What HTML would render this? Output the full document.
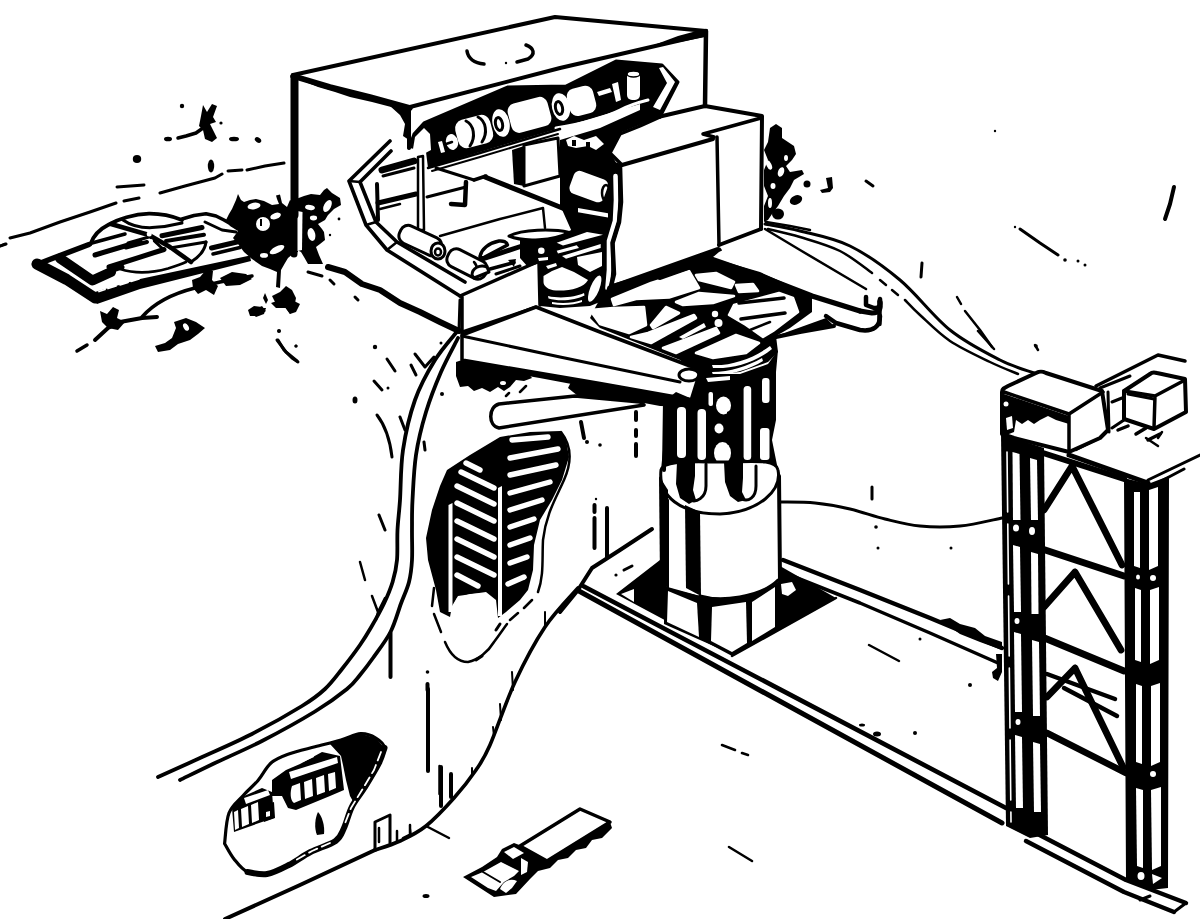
<!DOCTYPE html>
<html><head><meta charset="utf-8"><title>Launch facility cutaway</title>
<style>
html,body{margin:0;padding:0;background:#fff;font-family:"Liberation Sans",sans-serif;}
svg{display:block;position:absolute;left:0;top:0}
.k{fill:none;stroke:#000;stroke-linecap:round;stroke-linejoin:round}
.b{fill:#000;stroke:none}
.w{fill:#fff;stroke:none}
.wg{fill:#fff;stroke:#fff;stroke-width:2.6;stroke-linejoin:round}
.wb{fill:#fff;stroke:#000;stroke-linejoin:round;stroke-linecap:round}
.bb{fill:#000;stroke:#000;stroke-linejoin:round;stroke-linecap:round}
</style></head><body>
<svg width="1200" height="919" viewBox="0 0 1200 919">
<rect width="1200" height="919" fill="#fff"/>
<!-- 10_left.svg -->
<g id="left">
<!-- ground dashes -->
<path class="k" stroke-width="3" d="M0,246 L6,244 M10,238 L30,233 L60,222 L90,212 L116,203 M124,201 L139,198 M117,187 L144,185 M160,193 L185,186 L215,178 L222,174 M228,171 L242,170 M247,170 L265,166 L284,163"/>
<!-- small bush top -->
<path class="b" d="M203,105 L207,112 L212,104 L217,106 L213,117 L216,122 L210,124 L214,132 L217,138 L212,142 L205,139 L203,130 L199,126 L201,116 Z"/>
<path class="k" stroke-width="3.5" d="M178,138 L186,136 L196,133 L203,128"/>
<circle class="b" cx="182" cy="106" r="2.2"/><ellipse class="b" cx="168" cy="139" rx="4" ry="2.3"/>
<ellipse class="b" cx="234" cy="139" rx="5" ry="2.3"/><ellipse class="b" cx="258" cy="140" rx="3.5" ry="2.5" transform="rotate(35 258 140)"/>
<circle class="b" cx="221" cy="123" r="1.6"/>
<ellipse class="b" cx="137" cy="159" rx="4.2" ry="4"/><ellipse class="b" cx="211" cy="166" rx="3.2" ry="6.5"/>
<!-- silo cover platform -->
<path class="k" stroke-width="5.5" d="M38,264 L60,255.5 L89,244.5"/>
<path class="k" stroke-width="11" stroke-linecap="butt" d="M37,264 L66.7,279.5 L95,298"/>
<path class="b" d="M88,294 L140,279 L250,255.5 L251,261 L140,289 L97,304 Z"/>
<path class="k" stroke-width="10" stroke-linecap="butt" d="M60,258.3 L92.4,280.5 L111,272"/>
<path class="k" style="stroke:#fff" stroke-width="1.8" d="M99,291.5 L105,289.5 M108,288.5 L116,286 M120,284.8 L128,282.3 M131,281.3 L139,278.8"/>
<path class="k" stroke-width="5" d="M109,271.5 L122,267"/>
<!-- dome arcs -->
<path class="k" stroke-width="3.8" d="M90.5,244 C94,234 100,229 108,225 C118,219 134,214 149,213.7 C160,213.6 172,216 182,220"/>
<path class="k" stroke-width="3" d="M123,220 C130,225 140,228 152,227.6 C164,227 174,225 182,223"/>
<path class="k" stroke-width="3.5" d="M182,219 L194,215.5 L206,213.7 L216,216 L224,220 L237,227.5"/>
<!-- diagonal through hub -->
<path class="k" stroke-width="4.6" d="M111,224 L149,235 L170,247 L191,262"/>
<path class="k" stroke-width="3" d="M128,243 L149,237 M149,236 L164,250"/>
<!-- stripes -->
<path class="k" stroke-width="5" d="M95,255 L140,241.5"/>
<path class="k" stroke-width="3.5" d="M92,243 L125,234"/>
<path class="k" stroke-width="4" d="M126,247.5 L147,242"/>
<path class="k" stroke-width="5" d="M109,267 L164,249.5"/>
<path class="k" stroke-width="2.6" d="M120,269 C134,273.5 152,273 168,268.5 C176,266 182,264 186,262"/>
<path class="k" stroke-width="3" d="M206,242 C205,250 199,257 191,262"/>
<path class="k" stroke-width="5" d="M162,235.7 L202,227.5"/>
<path class="k" stroke-width="4" d="M166,241 L204,234.8"/>
<path class="k" stroke-width="3" d="M170,248 L206,242"/>
<path class="k" stroke-width="5" d="M211.5,248 L237,242"/>
<path class="k" stroke-width="3.5" d="M213,254 L240,247.5"/>
<path class="k" stroke-width="3" d="M205,222 L222,230 L236,232"/>
<circle class="w" cx="149.2" cy="234" r="2.5"/><circle class="w" cx="151" cy="241" r="2"/>
<!-- big bush at box corner -->
<path class="b" d="M232,209 L236,200 L238,194 L241,200 L244,202 L250,200 L256,199 L264,201 L272,205 L279,204 L277,199 L276,195.5 L280,194.5 L282,203 L287,207 L290,200 L298,205 L298,252 L294,253 L288,258 L285,263 L281,270 L280,288 L276,287 L277,272 L270,269 L262,266 L252,259 L244,252 L238,244 L233,238 L238,231 L230,226 L226,220 L229,214 Z"/>
<ellipse class="w" cx="254" cy="206" rx="6.5" ry="3.3" transform="rotate(-10 254 206)"/>
<circle class="w" cx="263" cy="224" r="7"/>
<ellipse class="w" cx="275.6" cy="216" rx="5.5" ry="3" transform="rotate(-20 275.6 216)"/>
<ellipse class="w" cx="277" cy="249.7" rx="8" ry="3.2" transform="rotate(-27 277 249.7)"/>
<ellipse class="w" cx="264" cy="255.4" rx="4" ry="2.4"/>
<path class="b" d="M260,219 L262,219 L262,226 L260,226 Z"/>
<!-- box edge extension into bush -->
<path class="k" stroke-width="7" d="M294,210 L294,254"/>
<!-- bush right of box edge -->
<path class="b" d="M296,199 L304,196 L311,194 L320,195 L324,190 L327,188 L332,193 L340,198 L341,205 L334,209 L328,215 L325,220 L318,224 L322,229 L324,232 L325,240 L320,244 L316,247 L319,255 L323,264 L308,264 L304,257 L301,252 L297,250 Z"/>
<path class="w" d="M297.5,211 L302.5,212 L302,250 L297.5,251 Z"/>
<ellipse class="w" cx="310" cy="207.5" rx="5" ry="2.5" transform="rotate(10 310 207.5)"/>
<ellipse class="w" cx="327.5" cy="206" rx="3.5" ry="6.5" transform="rotate(28 327.5 206)"/>
<ellipse class="w" cx="313.5" cy="218" rx="3.6" ry="2.4"/>
<ellipse class="w" cx="311.5" cy="234.5" rx="3.8" ry="6.5" transform="rotate(-12 311.5 234.5)"/>
<circle class="b" cx="339" cy="219" r="1.4"/><circle class="b" cx="330" cy="235" r="1.2"/>
<!-- lower vegetation -->
<path class="k" stroke-width="3.5" d="M77,351 L87,345"/>
<path class="k" stroke-width="4" d="M95,340 L108,328 L120,322 L142,318 L157,317"/>
<path class="b" d="M100,311 L107,314 L113,307 L119,310 L117,318 L125,322 L118,330 L108,328 L102,322 Z"/>
<path class="k" stroke-width="3.5" d="M142,317 C155,302 175,293 195,288 L220,282 L252,276"/>
<path class="b" d="M192,280 L200,277 L206,270 L213,271 L212,280 L218,286 L214,295 L206,290 L198,294 L193,288 Z"/>
<path class="b" d="M220,278 L232,272 L246,274 L252,279 L240,285 L226,286 Z"/>
<path class="b" d="M155,346 L165,343 L172,338 L176,328 L174,322 L186,318 L196,322 L205,328 L198,334 L190,340 L178,344 L170,350 L158,352 Z"/>
<ellipse class="w" cx="186" cy="327" rx="2.5" ry="4" transform="rotate(-30 186 327)"/>
<path class="b" d="M250,312 L258,308 L266,308 L264,314 L256,317 Z"/>
<path class="b" d="M272,296 L280,292 L286,286 L292,290 L296,298 L294,308 L290,314 L284,306 L276,304 Z"/>
<path class="b" d="M265,293 L268,300 L266,304 L263,298 Z"/>
<path class="k" stroke-width="3" d="M278,340 L284,350 L292,358 L298,362 M279,331 L279,331 M296,346 L296,346"/>
<path class="b" d="M248,310 L254,306 L262,307 L266,311 L258,316 L250,316 Z"/>
<path class="b" d="M251,308 L264,312 L258,304 Z" opacity="0"/>
<path class="b" d="M250,308 L258,304 L265,308 L262,313 L252,314 Z" opacity="0"/>
<path class="b" d="M272,300 L300,302 L296,312 L290,304 Z" opacity="0"/>
<path class="b" d="M250,306 L264,306 L264,314 L250,314 Z" opacity="0"/>
</g>

<!-- 20_mainbox.svg -->
<g id="mainbox">
<!-- roof -->
<path class="k" stroke-width="4" d="M293,75 L555,17 L706,31"/>
<path class="k" stroke-width="4" d="M410,107 L560,68 L703,35"/>
<path class="k" stroke-width="5.5" d="M293,76 L330,87 L370,97 L410,108"/>
<path class="b" d="M300,78 L330,86 L345,92 L370,96 L385,102 L410,107 L410,110 L395,108 L372,102 L350,97 L335,92 L318,87 L303,81 Z"/>
<path class="b" d="M654,45 L678,36 L704,29 L705,37 L680,42 Z"/>
<!-- left wall edge -->
<path class="k" stroke-width="8" d="M294.5,77 L294.5,215"/>
<!-- front-left vertical + shadow -->
<path class="k" stroke-width="4" d="M409,108 L409,148"/>
<path class="b" d="M390,106 L409,108 L409,140 L403,136 L405,124 L400,115 Z"/>
<!-- right edge -->
<path class="k" stroke-width="4.5" d="M706,31 L705,106"/>
<!-- ground edge at base -->
<path class="k" stroke-width="6" d="M328,267 L345,272 L362,284 L380,290 L400,303 L420,312 L440,322 L459,331"/>
<path class="k" stroke-width="3" d="M308,272 L322,276 M330,280 L334,284 M355,297 L358,300"/>
<!-- open frame left -->
<path class="k" stroke-width="3.6" d="M390,141 L349,181 L366,225 L387,250 L460,296"/>
<path class="k" stroke-width="3.6" d="M391,151 L360,182 L376,222 L397,242 L465,282"/>
<path class="k" stroke-width="4" d="M377,184 L378,220"/>
<path class="k" stroke-width="2.5" d="M349,181 L360,182 M366,225 L376,222 M387,250 L397,242"/>
</g>

<!-- 22_interior.svg -->
<g id="interior">
<!-- upper black band behind rollers -->
<path class="b" d="M410,148 L414,134 L424,123 L470,104 L508,87 L566,86 L590,74 L616,61 L662,65 L678,82 L668,100 L660,117 L642,124 L622,132 L610,152 L618,166 L616,222 L606,252 L596,240 L572,232 L560,205 L560,140 L600,128 L640,110 L640,104 L600,116 L560,128 L520,140 L480,152 L428,168 L426,152 Z"/>
<!-- cutaway edge outline -->
<path class="k" stroke-width="3" d="M409,148 L414,134 L424,123 L508,87 L566,86 L616,61 L662,65 L678,82 L660,117"/>
<!-- rollers (white) -->
<path class="w" d="M413,149 L415,137 L424,128 L430,134 L431,150 L420,156 Z"/>
<g transform="rotate(-15 474 131)"><rect class="w" x="456" y="117" width="36" height="29" rx="9"/></g>
<path class="k" stroke-width="3" d="M466,121 C474,125 476,137 470,146 M478,117 C486,121 488,133 482,142"/>
<ellipse class="w" cx="452" cy="142" rx="6" ry="8" transform="rotate(-15 452 142)"/>
<path class="k" stroke-width="2.5" d="M440,146 L452,142"/>
<path class="w" d="M438,142 L442,141 L445,152 L441,153 Z"/>
<ellipse class="w" cx="501" cy="123" rx="8.5" ry="14" transform="rotate(-12 501 123)"/>
<ellipse class="k" stroke-width="3" cx="499" cy="124" rx="3.5" ry="6.5" transform="rotate(-12 499 124)"/>
<g transform="rotate(-15 529 115)"><rect class="w" x="509" y="100" width="41" height="30" rx="8"/></g>
<ellipse class="w" cx="561" cy="107" rx="9" ry="14" transform="rotate(-12 561 107)"/>
<ellipse class="k" stroke-width="3" cx="559" cy="108" rx="3.5" ry="6.5" transform="rotate(-12 559 108)"/>
<g transform="rotate(-15 581 101)"><rect class="w" x="568" y="87" width="27" height="28" rx="8"/></g>
<path class="w" d="M597,92 L610,88 L612,92 L599,96 Z M612,84 L618,82 L621,100 L616,102 Z"/>
<rect class="w" x="627" y="72" width="13" height="28" rx="5"/>
<ellipse class="wb" stroke-width="1.5" cx="633.5" cy="74" rx="6.5" ry="3"/>
<path class="w" d="M659,68 L663,67 L675,82 L660,110 L653,107 L667,83 Z"/>

<!-- curved rail in right part -->
<path class="k" stroke="#fff" stroke-width="3" d="M556,128 C580,124 604,118 620,110 C630,105 640,102 648,100" style="stroke:#fff"/>
<path class="w" d="M566,140 L574,136 L584,140 L596,136 L604,144 L596,150 L588,146 L576,148 L568,146 Z"/>
<path class="b" d="M572,140 L576,140 L576,146 L572,146 Z M586,142 L590,142 L590,147 L586,147 Z"/>
<!-- white cylinder in right block -->
<g transform="rotate(20 590 186)"><rect class="w" x="571" y="175" width="36" height="24" rx="6"/></g>
<ellipse class="k" stroke-width="2.5" cx="606" cy="193" rx="4" ry="8"/>

<!-- mid box -->
<path class="b" d="M512,150 L524,146 L524,186 L514,184 Z"/>
<path class="wb" stroke-width="3" d="M524,145 L558,138 L560,176 L524,186 Z"/>
<!-- rail under rollers -->
<path class="k" stroke-width="2.5" d="M428,168 L480,153 L520,141 L560,129"/>
<path class="k" stroke-width="2" d="M432,171 L480,157 L520,145 L558,134"/>
<!-- pole -->
<path class="wb" stroke-width="2.5" d="M418,157 L423,156 L424,230 L418,230 Z"/>
<!-- inner frame shadows and lines -->
<path class="k" stroke-width="7" d="M382,170 L414,161"/>
<path class="k" stroke-width="3" d="M383,176 L414,168"/>
<path class="k" stroke-width="5" d="M378,203 L416,194"/>
<path class="k" stroke-width="2.5" d="M380,209 L400,204"/>
<path class="k" stroke-width="3" d="M427,197 L466,187"/>
<path class="k" stroke-width="3" d="M436,168 L474,180"/>
<path class="k" stroke-width="4.5" d="M466,182 L465,205 L451,204"/>
<path class="k" stroke-width="3.5" d="M474,180 L486,176"/>
<path class="k" stroke-width="5" d="M485,177 L540,199 L602,224"/>
<path class="k" stroke-width="2.5" d="M440,236 L500,219 L543,208 L545,228"/>
<!-- lower rollers bottom-left -->
<g transform="rotate(25 420 241)"><rect class="wb" stroke-width="3" x="398" y="231" width="44" height="19" rx="8"/></g>
<ellipse class="wb" stroke-width="3" cx="438" cy="251" rx="7" ry="8"/>
<ellipse class="k" stroke-width="2.5" cx="438" cy="252" rx="3" ry="3.5"/>
<g transform="rotate(27 466 264)"><rect class="wb" stroke-width="3" x="446" y="254" width="42" height="19" rx="8"/></g>
<path class="k" stroke-width="2.5" d="M474,262 C478,266 478,274 474,278"/>
<!-- line from frame to lower box -->
<path class="k" stroke-width="3.5" d="M460,296 L537,262"/>
</g>

<!-- 30_stepbox.svg -->
<g id="stepbox">
<path class="k" stroke-width="4" d="M658,117 L705,106 L762,116 L761,229"/>
<path class="k" stroke-width="3.5" d="M761,118 L703,134 L714,137"/>
<path class="k" stroke-width="3.5" d="M717,137 L719,245"/>
<path class="k" stroke-width="4" d="M622,165 L713,139"/>
<path class="k" stroke-width="3.5" d="M622,165 L610,153 L620,134 L640,126 L660,117"/>
<path class="k" stroke-width="11" stroke-linecap="butt" d="M616,168 L616,200 L615,222 L609,242 L609,270 L607,290"/>
<path class="k" style="stroke:#fff" stroke-width="4.6" stroke-linecap="butt" d="M615.5,176 L616,200 L615,221 L609,241 L609,270 L607.5,288"/>
<path class="k" stroke-width="4.5" d="M620,166 L621,202 L619,222 L612.5,243 L614,274 L610.5,288"/>
<path class="k" stroke-width="8" d="M611,289 L718,251"/>
<path class="k" stroke-width="4" d="M719,245 L761,229"/>
</g>

<!-- 40_platform.svg -->
<g id="platform">
<!-- lower-left front box -->
<path class="k" stroke-width="3.5" d="M462,297 L462,333"/>
<path class="k" stroke-width="3.5" d="M539,262 L540,305"/>
<path class="k" stroke-width="3" d="M462,332 L536,307"/>
<!-- lines radiating at box bottom corner -->
<path class="k" stroke-width="3" d="M460,300 L459,330"/>
<!-- interior lower: base black -->
<path class="b" d="M520,240 L530,234 L545,230 L569,231 L585,224 L604,226 L606,240 L604,262 L605,300 L590,306 L560,308 L540,306 L540,263 L528,267 L520,258 Z"/>
<path class="wb" stroke-width="3" d="M509,236 C522,229.5 552,228.5 569,232.5 C554,240.5 524,242.5 509,236 Z"/>
<path class="w" d="M556.7,242.7 L587,232 L603,234.7 L563,245.5 Z"/>
<path class="w" d="M556.7,250.7 L576.7,245.3 L579,248 L558,253.5 Z"/>
<path class="w" d="M562,256 L600.7,244 L600.7,248 L566,258.7 Z"/>
<path class="w" d="M577,257 L602,252 L602,266 L590,272 L578,265 Z"/>
<circle class="w" cx="541.3" cy="250.7" r="3.3"/>
<path class="w" d="M538,258 L548,257 L548,260 L539,261 Z"/>
<path class="w" d="M546,266 L556,263 L557,266 L548,269 Z"/>
<path class="w" d="M543.5,276 L552,271 L562,267 L574,272 L588,280 C584,288 570,291 556,290.5 C548,290 543.5,286 543.5,282 Z"/>
<path class="w" d="M548,296 C560,299 576,297 584,293 L584.5,295.5 C576,300 560,302 548.5,298.5 Z"/>
<path class="w" d="M552,302 C562,304 574,303 582,300 L582,302 C574,305 562,306 552,304 Z"/>
<ellipse class="w" cx="594.7" cy="288.7" rx="4.5" ry="14" transform="rotate(22 594.7 288.7)"/>
<path class="w" d="M578,208 L608,213.3 L608,217.5 L578,212.3 Z"/>
<!-- dome (bell) at left and stripes -->
<path class="wb" stroke-width="3.5" d="M480,257 C481,249 489,243 499,241 C503,240.5 507,242 507.5,245 L483,258 Z"/>
<path class="k" stroke-width="5" d="M484,258.5 L520.5,246.5"/>
<path class="k" stroke-width="3.6" d="M490,269 L514,262.5"/>
<path class="b" d="M508,260 L516,259 L514,267 Z"/>
<path class="k" stroke-width="3" d="M496,274 L520,266"/>
<path class="wb" stroke-width="3" d="M472,275 C472,268 480,264 487,267 L489,272 L474,278 Z"/>
<!-- platform black base shape -->
<path class="b" d="M604,292 L612,284 L708,256 L720,258 L762,272 L800,288 L812,296 L812,312 L790,328 L776,336 L778,352 L768,362 L740,372 L708,375 L690,368 L680,360 L640,344 L600,328 L590,318 L596,306 Z"/>
<!-- white patches -->
<path class="wg" d="M612,299 L651,283 L689,271 L699,288 L669,297.5 L636,299 L614,305 Z"/>
<path class="wg" d="M696,275 L716,273 L734,282 L731,288 L699,280 Z"/>
<path class="wg" d="M736,285 L753,284 L758,291 L739,292 Z"/>
<path class="wg" d="M676,302 L699,293 L734,296 L713,303 L683,305 Z"/>
<path class="wg" d="M590,310 L613,308 L644,307 L646,325 L629,333 L600,324 Z"/>
<path class="wg" d="M651,325 L666,307 L679,313 L653,328 Z"/>
<path class="wg" d="M631,337 L648,333 L694,315 L696,318 L651,343 Z"/>
<path class="w" d="M679,337 L704,323 L706,327 L683,339 Z"/>
<path class="wg" d="M663,348 L716,328 L719,333 L676,353 Z"/>
<path class="wg" d="M696,353 L736,335 L759,343 L746,353 L713,358 Z"/>
<path class="wg" d="M734,305 L779,293 L793,298 L798,312 L773,331 L763,337 L746,325 L729,315 Z"/>
<path class="k" stroke-width="3.5" d="M739,303 L784,298 M741,319 L785,313"/>
<path class="k" stroke-width="2.5" d="M750,330 L770,322"/>
<path class="w" d="M712,365 C732,366 754,358 770,346 L772,349 C756,362 734,369 713,368 Z"/>
<path class="w" d="M712,372 C730,372 748,366 762,358 L763,361 C750,369 732,375 713,375 Z"/>
<circle class="w" cx="715" cy="314" r="3.2"/><circle class="w" cx="718.5" cy="323" r="4"/>
<!-- platform right arm -->
<path class="w" d="M712,258 L719,252 L761,232 L770,232 L868,290 L880,300 L880,312 L860,312 L800,290 L760,272 Z"/>
<path class="k" stroke-width="5.5" d="M711,259 L760,276 L812,296 L860,311"/>
<path class="k" stroke-width="2.5" d="M765,229 L800,250 L866,289"/>
<path class="k" stroke-width="4.5" d="M866,297 L866,305 L874,308 C880,309 881,304 880,299"/><path class="k" stroke-width="5" d="M860,311 L872,313 C880,313 881,308 880,302"/>
<path class="k" stroke-width="4.5" d="M826,316 L836,323 L860,330 C874,332 880,326 880,316"/>
<path class="k" stroke-width="4" d="M776,337 L800,332 L834,326"/>
<path class="k" stroke-width="4.5" d="M879.5,301 L879.5,324"/>
<path class="b" d="M776,336 L826,318 L834,326 L800,332 Z"/>
<path class="k" stroke-width="6" d="M660,277 L711,259"/>
<!-- upper arm (wedge) -->

<path class="wb" stroke-width="3.5" d="M462,335 L536,307 L600,332 L690,366 C701,368 705,378 700,386 L693,400 L600,383.5 L462,360 Z"/>
<path class="k" stroke-width="3" d="M462,336 L560,357 L680,382"/>
<ellipse class="wb" stroke-width="3" cx="689" cy="375" rx="10" ry="6"/>
<!-- shadow under arm -->
<path class="b" d="M456,362 L462,360 L480,364 L500,368 L527,372 L532,378 L524,381 L516,380 L510,387 L504,391 L498,387 L490,392 L482,388 L474,391 L468,386 L460,387 L456,376 Z"/>
<path class="k" stroke-width="5" d="M480,365 L540,375.5 L580,383"/>
<ellipse class="w" cx="503" cy="383" rx="3" ry="2"/>
<path class="k" stroke-width="2.5" d="M520,392 L526,386 M506,396 L509,393"/>
<!-- lower arm -->
<path class="wb" stroke-width="3.5" d="M499,404 L575,396 L640,402 L644,405 L499,428 C488,426 488,407 499,404 Z"/>
<path class="b" d="M572,380 L600,384 L697,400 L698,407 L660,406 L644,403 L600,398 L578,396 L568,388 Z"/>
</g>

<!-- 50_column.svg -->
<g id="column">
<!-- pit black -->
<path class="b" d="M616,594 L660,560 L700,575 L780,566 L836,598 L732,656 Z"/>
<path class="w" d="M621,594 L634,589 L634,602 Z"/>
<path class="w" d="M781,584 L792,582 L796,590 L788,596 L782,594 Z"/>
<!-- pit edges -->
<path class="k" stroke-width="2.5" d="M836,598 L732,656"/>
<!-- pillars black mass -->
<path class="b" d="M700,366 L712,374 L740,374 L768,364 L778,350 L776,372 L776,420 L772,440 L778,470 L660,480 L664,440 L666,400 L676,392 L690,398 Z"/>
<!-- white slots -->
<rect class="w" x="677" y="407" width="9" height="51" rx="4"/>
<rect class="w" x="697.5" y="409" width="8.5" height="51" rx="4"/>
<ellipse class="w" cx="723.5" cy="405.5" rx="7.5" ry="9"/>
<ellipse class="w" cx="719" cy="428.5" rx="4.5" ry="5"/>
<ellipse class="w" cx="722.5" cy="453" rx="8.5" ry="11"/>
<rect class="w" x="708.5" y="392" width="4.5" height="14" rx="2"/>
<rect class="w" x="743.6" y="386" width="7.6" height="74" rx="3.5"/>
<rect class="w" x="760" y="428" width="9.5" height="32" rx="3"/>
<rect class="w" x="762" y="378" width="7.5" height="25" rx="3"/>
<path class="w" d="M706,378 L730,376 L730,380 L708,382 Z"/>
<path class="b" d="M727,412 L731,410 L731,446 L727,444 Z"/>
<!-- cylinder body -->
<path class="w" d="M660,478 C660,530 700,516 720,514 C760,512 779,500 779,478 L779,580 C770,596 730,602 700,596 L667,588 Z"/>
<path class="wb" stroke-width="3" d="M661,470 C664,460 690,462 720,462 C750,462 776,458 778,470 C782,490 760,512 720,514 C680,514 658,496 661,470 Z"/>
<path class="k" stroke-width="4" d="M779,476 L780,580"/>
<path class="b" d="M659,476 L668,490 L668,588 L660,580 Z"/>
<path class="b" d="M685,505 L700,512 L701,596 L686,588 Z"/>
<path class="k" stroke-width="2" d="M668,500 L668,588"/>
<path class="k" stroke-width="3" d="M700,596 C720,602 760,598 778,580"/>
<!-- hooks on cylinder top -->
<path class="b" d="M677,462 L695,460 L695,476 L693,490 L696,500 L689,504 L680,498 L676,484 Z"/><path class="k" stroke-width="3" d="M706,464 L706,486 C706,498 696,503 690,500"/>
<path class="b" d="M724,462 L743,460 L743,478 L742,492 L746,500 L738,502 L730,496 L725,482 Z"/><path class="k" stroke-width="3" d="M756,466 L756,486 C756,498 748,502 742,499"/>
<!-- base panels -->
<path class="b" d="M664,586 L700,596 L740,600 L778,582 L778,626 L750,642 L732,654 L700,640 L664,624 Z"/>
<path class="w" d="M668,591 L697,603 L699,637 L667,622 Z"/>
<path class="w" d="M712,607 L746,602 L747,643 L732,652 L711,641 Z"/>
<path class="w" d="M752,602 L775,587 L775,627 L752,641 Z"/>
</g>

<!-- 60_rails.svg -->
<g id="rails">
<!-- front rail -->
<path class="k" stroke-width="4.6" d="M584,586.5 L780,689.4 L1006,808"/>
<path class="k" stroke-width="5" d="M578,590.5 L780,701.3 L1002,823"/>
<path class="k" stroke-width="4.5" d="M1030,830 L1126,880 L1186,903"/>
<path class="k" stroke-width="4.5" d="M1026,841 L1124,892 L1174,912"/>
<path class="k" stroke-width="3" d="M1174,912 L1186,903 M1140,900 L1150,896"/>
<!-- back rail -->
<path class="k" stroke-width="4.5" d="M783,560 L860,590 L930,618 L1002,648"/>
<path class="k" stroke-width="3.5" d="M782,572 L860,603 L930,633 L998,663"/>
<path class="b" d="M940,620 L950,618 L960,624 L975,628 L985,636 L1002,642 L1002,650 L980,642 L960,634 Z"/>
<path class="b" d="M996,654 L1002,654 L1002,672 L998,681 L993,678 L992,672 L997,668 Z"/>
<!-- cliff/ground edge to rail start -->
<path class="k" stroke-width="4" d="M560,612 L578,590 L592,568 L620,550 L652,529"/>
<!-- small dashes on ground -->
<path class="k" stroke-width="2.5" d="M869,645 L899,661"/>
<path class="k" stroke-width="2.5" d="M722,745 L735,750 M742,753 L748,755 M729,847 L752,861"/>
<circle class="b" cx="951" cy="548" r="1.5"/><circle class="b" cx="920" cy="639" r="1.5"/><circle class="b" cx="970" cy="685" r="2"/>
<circle class="b" cx="915" cy="733" r="2"/><ellipse class="b" cx="877" cy="734" rx="4" ry="2.5"/><ellipse class="b" cx="862" cy="725" rx="3" ry="1.5"/>
<circle class="b" cx="878" cy="548" r="1.5"/><circle class="b" cx="876" cy="527" r="1.8"/>
</g>

<!-- 70_tower.svg -->
<g id="tower">
<!-- braces front face -->
<path class="k" stroke-width="6" d="M1043,453 L1124,479"/>
<path class="k" stroke-width="6.8" d="M1030,545 L1124,576"/>
<path class="k" stroke-width="6.8" d="M1030,632 L1124,671"/>
<path class="k" stroke-width="6.5" d="M1047,733 L1126,773"/>
<!-- diagonals -->
<path class="k" stroke-width="6.8" d="M1072,466 L1044,510 M1072,466 L1122,565"/>
<path class="k" stroke-width="6.8" d="M1075,572 L1044,607 M1075,572 L1121,650"/>
<path class="k" stroke-width="6.8" d="M1075,668 L1047,697 M1075,668 L1123,767"/>
<path class="k" stroke-width="4.5" d="M1047,674 L1115,699 M1064,688 L1117,716"/>
<!-- left leg -->
<path class="b" d="M1001,434 L1044,448 L1048,835 L1030,838 L1006,826 Z"/>
<g class="w">
<path d="M1012.5,452 L1019.5,454 L1020.5,520 L1013,520 Z"/>
<path d="M1030,458 L1037,460 L1038,520 L1031,520 Z"/>
<path d="M1013,545 L1020,547 L1021,612 L1014,612 Z"/>
<path d="M1031,552 L1038,554 L1038.5,614 L1031.5,614 Z"/>
<path d="M1014,632 L1021,634 L1022,712 L1015,712 Z"/>
<path d="M1032,640 L1039,642 L1040,716 L1033,716 Z"/>
<path d="M1015,735 L1022,737 L1023,808 L1016,808 Z"/>
<path d="M1033,742 L1040,744 L1041,812 L1034,812 Z"/>
<ellipse cx="1016" cy="528" rx="3" ry="3.5"/><ellipse cx="1032" cy="531" rx="3" ry="4"/>
<ellipse cx="1017" cy="621" rx="2.5" ry="3"/><ellipse cx="1018" cy="722" rx="2.5" ry="3"/>
</g>
<path class="k" style="stroke:#fff" stroke-width="1.6" stroke-dasharray="60 12" d="M1007,452 L1011,822"/>
<!-- right leg -->
<path class="b" d="M1124,478 L1148,484 L1169,476 L1168,888 L1150,890 L1126,880 Z"/>
<g class="w">
<path d="M1134,492 L1140,492 L1140,568 L1134,566 Z"/>
<path d="M1149,490 L1158,487 L1158,566 L1149,570 Z"/>
<path d="M1135,588 L1141,590 L1141,662 L1135,660 Z"/>
<path d="M1150,590 L1159,587 L1159,660 L1150,664 Z"/>
<path d="M1136,684 L1142,686 L1142,764 L1136,762 Z"/>
<path d="M1151,686 L1160,683 L1160,762 L1151,766 Z"/>
<path d="M1136,788 L1143,790 L1143,868 L1137,866 Z"/>
<path d="M1151,790 L1161,787 L1161,866 L1152,870 Z"/>
<ellipse cx="1153" cy="578" rx="3" ry="3"/><ellipse cx="1153" cy="774" rx="3" ry="3"/><ellipse cx="1138" cy="577" rx="2" ry="2.5"/>
<ellipse cx="1141" cy="876" rx="3.5" ry="4"/><path d="M1152,874 L1162,878 L1153,884 Z"/>
</g>
<!-- tower top platform -->
<path class="k" stroke-width="5" d="M1069,455 L1148,483"/>
<path class="k" stroke-width="3" d="M1148,480 L1200,455 M1150,487 L1184,469"/>
<path class="k" stroke-width="2.5" d="M1076,450 L1098,439"/>
<!-- box 1 -->
<path class="wb" stroke-width="4" d="M1002,392 C1002,389 1004,388 1008,386 L1036,373 C1040,371 1042,371 1046,373 L1102,391 L1108,430 L1100,438 L1069,452 L1014,438 L1002,434 Z"/>
<path class="k" stroke-width="3.5" d="M1004,392 L1069,414 L1103,392 M1069,414 L1069,452"/>
<path class="b" d="M1004,394 L1069,416 L1069,424 L1056,420 L1048,416 L1040,420 L1034,424 L1028,420 L1022,424 L1016,420 L1014,432 L1004,436 Z"/>
<ellipse class="w" cx="1006" cy="404" rx="2.5" ry="2.5"/><path class="w" d="M1006,418 L1012,416 L1013,428 L1007,430 Z"/>
<!-- small link box -->
<path class="k" stroke-width="3" d="M1108,392 L1109,432 M1112,402 L1122,398 M1112,428 L1124,420"/>
<!-- box 2 -->
<path class="wb" stroke-width="4" d="M1124,391 L1150,374 C1152,372 1154,372 1157,373 L1185,379 L1186,412 L1154,429 L1124,419 Z"/>
<path class="k" stroke-width="3.5" d="M1124,391 L1155,396 L1185,380 M1155,396 L1154,428"/>
<path class="k" stroke-width="3" d="M1128,394 L1154,399"/>
<!-- shadow marks under box 2 -->
<path class="k" stroke-width="3.5" d="M1118,430 L1128,426 M1136,434 L1146,428 M1148,440 L1160,434"/>
<path class="k" stroke-width="2.5" d="M1146,438 L1158,446 M1158,438 L1162,432"/>
<!-- back line behind boxes -->
<path class="k" stroke-width="3.5" d="M1096,386 L1158,355 L1185,361"/>
<path class="k" stroke-width="3" d="M1100,388 L1130,376"/>
</g>

<!-- 80_curves.svg -->
<g id="curves">
<path class="k" stroke-width="3.8"  d="M457.5,331.0 C453.8,335.8 442.1,348.5 435.0,360.0 C427.9,371.5 420.3,385.0 415.0,400.0 C409.7,415.0 405.5,433.3 403.0,450.0 C400.5,466.7 400.9,486.7 400.0,500.0 C399.1,513.3 398.0,520.0 397.5,530.0 C397.0,540.0 397.8,551.3 397.0,560.0 C396.2,568.7 394.8,574.8 392.6,582.0 C390.4,589.2 387.6,595.9 384.0,603.5 C380.4,611.1 375.0,620.6 371.0,627.5 C367.0,634.4 364.8,638.1 360.0,645.0 C355.2,651.9 347.8,661.7 342.0,669.0 C336.2,676.3 331.7,682.8 325.0,689.0 C318.3,695.2 314.2,698.5 302.0,706.0 C289.8,713.5 269.0,725.3 252.0,734.0 C235.0,742.7 215.7,750.8 200.0,758.0 C184.3,765.2 165.0,773.8 158.0,777.0"/>
<path class="k" stroke-width="3.8"  d="M458.0,338.0 C455.2,343.7 446.3,359.7 441.0,372.0 C435.7,384.3 430.2,398.2 426.0,412.0 C421.8,425.8 418.2,440.3 416.0,455.0 C413.8,469.7 413.2,487.5 412.5,500.0 C411.8,512.5 412.1,520.0 412.0,530.0 C411.9,540.0 412.5,551.3 412.0,560.0 C411.5,568.7 410.8,574.8 409.0,582.0 C407.2,589.2 404.1,595.2 401.0,603.5 C397.9,611.8 395.2,622.9 390.5,632.0 C385.8,641.1 378.1,650.8 373.0,658.0 C367.9,665.2 364.3,669.8 360.0,675.0 C355.7,680.2 354.5,682.9 347.0,689.0 C339.5,695.1 329.2,702.8 315.0,711.5 C300.8,720.2 278.7,732.4 262.0,741.0 C245.3,749.6 228.7,756.5 215.0,763.0 C201.3,769.5 185.8,777.2 180.0,780.0"/>
<path class="k" stroke-width="3"  d="M765.0,224.0 C770.8,225.2 785.8,227.3 800.0,231.0 C814.2,234.7 833.3,237.8 850.0,246.0 C866.7,254.2 883.3,266.0 900.0,280.0 C916.7,294.0 933.3,316.7 950.0,330.0 C966.7,343.3 986.0,352.8 1000.0,360.0 C1014.0,367.2 1028.3,370.8 1034.0,373.0"/>
<path class="k" stroke-width="2.5"  d="M768.0,229.0 C773.3,230.3 788.0,233.3 800.0,237.0 C812.0,240.7 828.0,245.0 840.0,251.0 C852.0,257.0 866.7,269.3 872.0,273.0"/>
<path class="k" stroke-width="2.5"  d="M905.0,300.0 C907.5,302.5 912.5,308.2 920.0,315.0 C927.5,321.8 938.3,333.2 950.0,341.0 C961.7,348.8 978.7,356.5 990.0,362.0 C1001.3,367.5 1013.3,372.0 1018.0,374.0"/>
<path class="k" stroke-width="2.5" d="M880,280 L886,285 M892,290 L898,295"/>
<path class="k" stroke-width="3"  d="M780.0,502.0 C785.8,502.2 803.3,501.8 815.0,503.0 C826.7,504.2 838.3,506.3 850.0,509.0 C861.7,511.7 873.3,516.2 885.0,519.0 C896.7,521.8 907.5,524.8 920.0,526.0 C932.5,527.2 946.3,527.3 960.0,526.0 C973.7,524.7 995.0,519.3 1002.0,518.0"/>
<path class="k" stroke-width="3.6"  d="M578.0,588.0 C572.5,594.5 555.5,611.3 545.0,627.0 C534.5,642.7 524.2,662.3 515.0,682.0 C505.8,701.7 496.5,730.3 490.0,745.0 C483.5,759.7 482.0,761.2 476.0,770.0 C470.0,778.8 462.3,788.7 454.0,798.0 C445.7,807.3 435.0,818.8 426.0,826.0 C417.0,833.2 408.5,837.0 400.0,841.0 C391.5,845.0 379.2,848.5 375.0,850.0"/>
<path class="k" stroke-width="4" d="M375,850 L300,885 L225,919"/>
</g>
<!-- 85_cutaways.svg -->
<g id="cutaways">
<!-- shelving cutaway: black body -->
<path class="b" d="M500,437 L530,432 L560,431 L566,440 L569,457 L562,480 L552,500 L540,520 L534,545 L533,570 L528,590 L520,600 L506,612 L498,618 L496,600 L486,592 L458,596 L452,606 L450,617 L440,612 L436,590 L428,560 L426,538 L432,510 L440,486 L447,470 L470,455 Z"/>
<!-- outer thin border right -->
<path class="k" stroke-width="2.5" d="M561,432 C572,446 572,462 564,480 C556,498 546,514 543,540 C542,560 544,575 538,592 M532,600 L524,608 M518,613 L510,620"/>
<!-- posts -->
<path class="w" d="M448.5,505 L452.5,503 L452.5,612 L448.5,612 Z"/>
<path class="w" d="M498,488 L502,486 L502,616 L498,616 Z"/>
<!-- left stripes (slanting down-right) -->
<g class="k" style="stroke:#fff" stroke-width="5.4">
<path d="M466,463 L480,470"/>
<path d="M461,472 L494,488"/>
<path d="M457,486 L494,504"/>
<path d="M457,503 L494,521"/>
<path d="M457,521 L494,539"/>
<path d="M457,539 L494,557"/>
<path d="M457,557 L494,575"/>
<path d="M457,575 L478,586"/>
</g>
<!-- right stripes (slanting up-right) -->
<g class="k" style="stroke:#fff" stroke-width="5.4">
<path d="M512,440 L548,437"/>
<path d="M510,458 L558,449"/>
<path d="M510,475 L556,465"/>
<path d="M510,493 L550,482"/>
<path d="M510,510 L542,500"/>
<path d="M510,527 L534,519"/>
<path d="M510,545 L530,538"/>
<path d="M510,563 L527,557"/>
<path d="M508,584 L524,577"/>
</g>
<!-- white floor at bottom -->
<path class="w" d="M457,598 L470,594 L486,593 L492,600 L496,612 L497,620 L452,620 L453,606 Z"/>
<!-- dashed lower outline -->
<path class="k" stroke-width="2.5" d="M434,588 L432,606 M434,614 L441,632 M445,642 C450,654 458,662 468,662 C478,660 488,652 494,642 C500,634 504,628 507,624"/>
<path class="k" stroke-width="3" d="M476,660 L482,656 M496,630 L500,624"/>
<!-- train tunnel cutaway -->
<path class="wb" stroke-width="3.2" d="M224.6,843.6 C225.3,838.5 225.9,821.0 229.0,813.0 C232.1,805.0 238.2,801.1 243.0,795.7 C247.8,790.3 253.3,786.0 258.0,780.5 C262.7,775.0 265.9,767.4 271.0,763.0 C276.1,758.6 281.5,756.7 288.8,754.0 C296.1,751.3 306.3,749.1 315.0,746.8 C323.7,744.5 333.4,742.2 341.0,740.0 C348.6,737.8 354.8,734.0 360.6,733.7 C366.4,733.4 371.8,735.6 375.8,738.0 C379.8,740.4 384.0,743.7 384.5,747.9 C385.0,752.1 382.2,756.5 379.0,763.0 C375.8,769.5 369.5,779.7 365.0,787.0 C360.5,794.3 355.5,799.8 352.0,806.6 C348.5,813.4 346.7,822.3 344.0,828.0 C341.3,833.7 341.2,837.0 335.6,841.0 C330.0,845.0 318.3,848.0 310.5,852.0 C302.7,856.0 296.1,861.3 288.8,865.0 C281.6,868.7 273.9,872.8 267.0,874.0 C260.1,875.2 253.0,874.5 247.5,872.0 C242.0,869.5 237.8,863.7 234.0,859.0 C230.2,854.3 226.2,846.2 224.6,843.6 Z"/>
<path class="b" d="M330,744 L341,740 L360.6,733.7 L375.8,738 L384.5,747.9 L379,763 L365,787 L354,803 L350,796 L346,780 L343,765 L341,756 Z"/>
<path class="k" stroke-width="6" d="M384.5,747.9 C383.6,750.4 382.2,756.5 379.0,763.0 C375.8,769.5 369.5,779.7 365.0,787.0 C360.5,794.3 355.5,799.8 352.0,806.6 C348.5,813.4 346.7,822.3 344.0,828.0 C341.3,833.7 341.2,837.0 335.6,841.0 C330.0,845.0 318.3,848.0 310.5,852.0 C302.7,856.0 296.1,861.3 288.8,865.0 C281.6,868.7 273.9,872.8 267.0,874.0 C260.1,875.2 250.8,872.3 247.5,872.0"/>
<path class="k" style="stroke:#fff" stroke-width="1.8" stroke-dasharray="9 5" d="M381,752 L374,770 L362,790 L351,808 L344,826 M330,843 L312,851 L296,860"/>
<!-- train car 1 -->
<path class="b" d="M272,780 L286,770 L300,764 L322,752 L340,756 L344,790 L330,796 L296,810 L288,808 L282,796 L272,796 Z"/>
<path class="w" d="M289,772 L337,757 L338,763 L291,779 Z"/>
<path class="w" d="M292,786 L300,783 L301,800 L294,803 C290,800 290,792 292,786 Z M304,782 L312,779 L313,796 L305,799 Z M316,778 L324,775 L325,792 L317,795 Z M328,774 L335,772 L336,788 L329,791 Z"/>
<path class="w" d="M300,756 L312,751 L314,757 L303,762 Z"/>
<!-- train car 2 -->
<path class="b" d="M232,808 L244,796 L262,788 L272,792 L274,818 L262,822 L234,832 Z"/>
<path class="w" d="M244,798 L268,790 L270,795 L246,804 Z"/>
<path class="w" d="M234,812 L238,810 L239,828 L235,830 Z M241,809 L248,806 L249,824 L242,827 Z M251,805 L258,802 L259,820 L252,823 Z"/>
<path class="b" d="M262,806 L274,802 L275,818 L264,822 Z"/>
<path class="w" d="M266,812 L270,811 L270,816 L266,817 Z"/>
<!-- small figure -->
<path class="b" d="M318,812 C322,816 325,826 324,834 L317,835 C314,828 315,818 318,812 Z"/>
<!-- door + hatch marks -->
<path class="k" stroke-width="3" d="M375,849 L375,822 L390,815 L390,843"/>
<path class="k" stroke-width="2.5" d="M379,828 L379,842 M397,831 L397,841 M410,825 L410,836 M403,838 L409,835"/>
<!-- vertical tick lines on cliff face -->
<path class="k" stroke-width="4" d="M428,689 L428,771"/>
<path class="k" stroke-width="4" d="M427.5,684 L427.5,690"/>
<circle class="b" cx="427.5" cy="672" r="1.8"/>
<path class="k" stroke-width="4" d="M441,767 L441,806 M451,774 L451,797"/>
<path class="k" stroke-width="2.5" d="M439.5,766 L439.5,794"/>
<path class="k" stroke-width="4" d="M390.5,633 L390.5,677"/>
<path class="k" stroke-width="2.5" d="M426,826 L449,838"/>
<path class="k" stroke-width="2" d="M493,727 L494,736 M472,768 L472,776 M410,828 L411,836 M512,672 L513,690 M500,704 L501,720 M545,612 L545,626"/>
<ellipse class="b" cx="426" cy="896" rx="3.5" ry="2"/>
<!-- truck -->
<path class="b" d="M463,877 L482,867 L497,857 L502,849 L514,843 L522,846 L548,861 L610,822 L612,828 L602,838 L592,840 L586,848 L576,850 L568,858 L558,860 L550,868 L538,871 L530,879 L516,894 L494,897 Z"/>
<path class="wb" stroke-width="3.5" d="M520,846 L580,809 L610,822 L547,861 Z"/>
<path class="w" d="M504,852 L514,847 L524,853 L513,859 Z"/>
<path class="w" d="M471,877 L483,872 L501,862 L519,871 L514,876 L504,882 L496,891 L488,888 Z"/>
<path class="w" d="M500,889 C503,881 510,878 517,881 L512,888 L506,893 Z"/>
<path class="w" d="M521,858 L528,862 L527,872 L521,875 Z"/>
<path class="k" stroke-width="2" d="M483,872 L500,882"/>
</g>

<!-- 90_misc.svg -->
<g id="misc">
<!-- roof circle marks -->
<path class="k" stroke-width="3.5" d="M467,51 C468,58 474,63 484,64"/>
<path class="k" stroke-width="3.5" d="M526,45 C534,48 536,54 528,59 L517,62"/>
<circle class="b" cx="506" cy="63" r="1.2"/>
<!-- bush right of box B -->
<path class="b" d="M770,128 L776,124 L782,128 L782,138 L788,142 L794,146 L796,154 L792,160 L786,166 L790,172 L802,170 L804,174 L794,180 L790,188 L784,196 L778,206 L772,214 L768,220 L764,222 L764,206 L768,196 L764,186 L764,170 L768,160 L764,150 L768,142 Z"/>
<ellipse class="w" cx="769" cy="165" rx="2.5" ry="5" transform="rotate(-25 769 165)"/><ellipse class="w" cx="781" cy="172" rx="3" ry="5" transform="rotate(20 781 172)"/>
<ellipse class="w" cx="773" cy="186" rx="2.5" ry="3"/><ellipse class="w" cx="770" cy="203" rx="2" ry="5"/><ellipse class="w" cx="786" cy="158" rx="2" ry="3"/>
<path class="b" d="M820,190 L828,188 L826,178 L832,177 L833,188 L830,192 L822,193 Z"/>
<ellipse class="b" cx="807" cy="184" rx="3.5" ry="3.5"/><ellipse class="b" cx="796" cy="200" rx="6.5" ry="4.5" transform="rotate(-25 796 200)"/>
<ellipse class="b" cx="778" cy="214" rx="6" ry="5.5"/>
<path class="k" stroke-width="2.5" d="M766,222 L790,226 L810,230"/>
<!-- upper right dashes -->
<circle class="b" cx="995" cy="131" r="1.2"/>
<path class="k" stroke-width="3" d="M866,181 L873,186"/>
<path class="k" stroke-width="4" d="M1174,187 L1170,204 L1165,219"/>
<path class="k" stroke-width="3" d="M1020,229 L1040,243 L1058,255"/>
<circle class="b" cx="1015" cy="227" r="1.2"/><circle class="b" cx="1065" cy="260" r="1.8"/><circle class="b" cx="1078" cy="261" r="1.5"/><circle class="b" cx="1085" cy="265" r="1.5"/>
<path class="k" stroke-width="3" d="M922,263 L921,277"/>
<path class="k" stroke-width="2.5" d="M957,297 L961,304 M965,311 L980,330 L992,347"/>
<circle class="b" cx="1036" cy="346" r="1.8"/>
<path class="k" stroke-width="2.5" d="M978,331 L994,349 M1035,345 L1038,350"/>
<!-- vegetation ticks near big cable -->
<path class="k" stroke-width="3" d="M277,340 L286,352 L297,361"/>
<circle class="b" cx="279" cy="331" r="2"/><circle class="b" cx="296" cy="346" r="1.6"/><circle class="b" cx="375" cy="347" r="2.2"/>
<path class="b" d="M250,312 L262,306 L265,310 L256,316 Z"/>
<path class="b" d="M271,303 L280,300 L292,300 L300,304 L296,312 L290,314 L286,308 L276,308 Z"/>
<path class="k" stroke-width="3" d="M387,359 L395,371 M374,381 L382,390"/>
<circle class="b" cx="388" cy="388" r="1.5"/>
<ellipse class="b" cx="355" cy="400" rx="2.5" ry="3.5"/>
<path class="k" stroke-width="3" d="M377,415 C384,424 390,440 392,457"/>
<path class="k" stroke-width="3" d="M415,354 L425,367 L434,357 M411,365 L416,375"/>
<circle class="b" cx="442" cy="394" r="2"/><circle class="b" cx="441" cy="343" r="1.5"/>
<path class="k" stroke-width="3" d="M400,417 L405,430 M424,442 L425,450 M379,515 L385,530"/>
<path class="k" stroke-width="2.5" d="M360,562 L365,580 M372,596 L378,612 L385,598 M378,612 L376,620"/>
<!-- vertical dashes below arms -->
<path class="k" stroke-width="4" d="M636,412 L636,420 M636,430 L636,436 M636,444 L636,456"/>
<path class="k" stroke-width="4" d="M581,422 L584,438"/>
<circle class="b" cx="587" cy="442" r="2"/><circle class="b" cx="600" cy="445" r="1.8"/>
<path class="k" stroke-width="4" d="M594.5,505 L594.5,512 M594.5,518 L594.5,548"/>
<circle class="b" cx="596" cy="499" r="1.2"/>
<path class="k" stroke-width="4" d="M607,508 L607,557"/>
<path class="k" stroke-width="3" d="M872,487 L872,499"/>
<!-- ink spots near rail start -->
<path class="k" stroke-width="3" d="M624,570 L632,566"/>
<circle class="b" cx="616" cy="575" r="1.6"/>
<path class="b" d="M620,586 L650,562 L660,560 L662,592 L640,600 L622,592 Z" opacity="0"/>
<!-- column left tall thin lines -->
<path class="k" stroke-width="4" d="M665,400 L664,470"/>
<!-- ground dash bottom-left -->
<path class="k" stroke-width="2.5" d="M0,246 L5,244"/>
</g>


</svg>
</body></html>
